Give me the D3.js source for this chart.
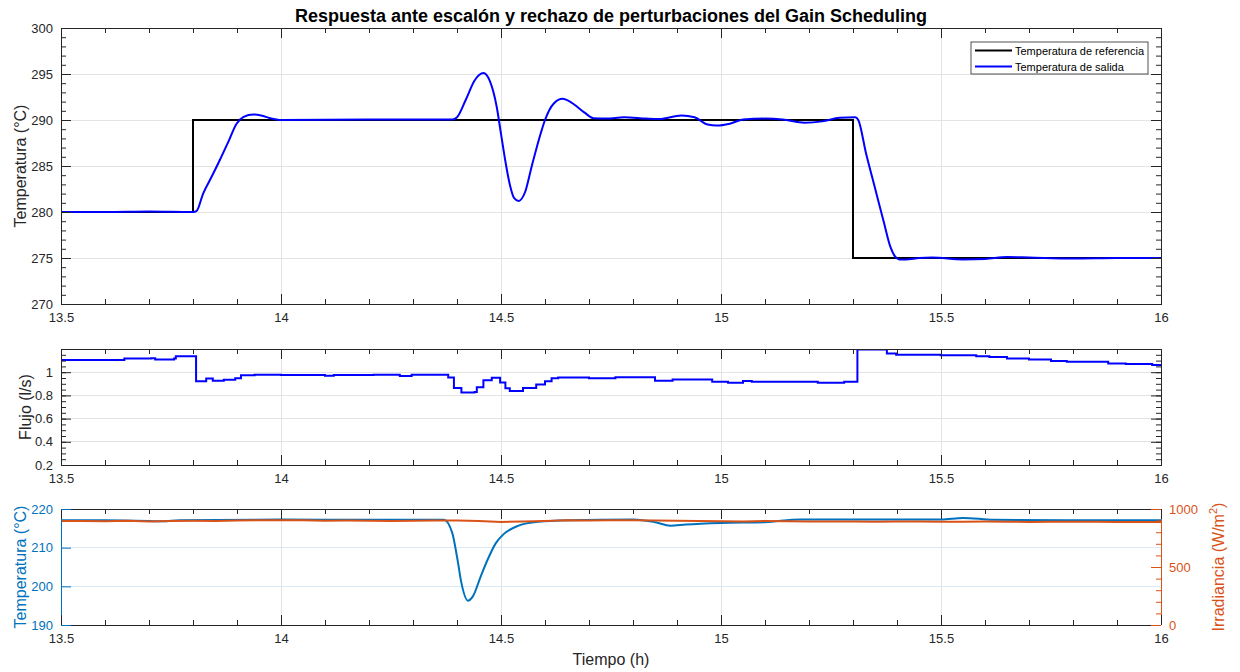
<!DOCTYPE html>
<html>
<head>
<meta charset="utf-8">
<script src="https://cdn.jsdelivr.net/npm/d3@7"></script>
<style>
body { margin: 0; background: #fff; }
text { font-family: "Liberation Sans", Arial, sans-serif; }
</style>
</head>
<body>
<script>
// ---- data ----
var refTime = [13.5, 13.8, 13.8, 15.3, 15.3, 16];
var refTemp = [280, 280, 290, 290, 275, 275];

var outTime = [13.5, 13.6, 13.7, 13.8, 13.808, 13.823, 13.842, 13.861, 13.88, 13.899, 13.915, 13.937, 13.955, 13.975, 14.0,
  14.2, 14.39, 14.40, 14.42, 14.44, 14.46, 14.475, 14.49, 14.50, 14.51, 14.52, 14.53, 14.54, 14.555, 14.57, 14.59, 14.60,
  14.62, 14.64, 14.66, 14.69, 14.71, 14.74, 14.78, 14.83, 14.86, 14.91, 14.94, 14.97, 14.99, 15.02, 15.05, 15.1, 15.14,
  15.19, 15.23, 15.27, 15.305, 15.312, 15.33, 15.35, 15.37, 15.385, 15.395, 15.405, 15.42, 15.45, 15.48, 15.55, 15.6,
  15.65, 15.7, 15.8, 15.9, 16.0];
var outTemp = [280, 280, 280.05, 280, 280.1, 282.0, 283.8, 285.65, 287.6, 289.6, 290.35, 290.6, 290.5, 290.2, 290.0,
  290.05, 290.05, 290.3, 292.2, 294.3, 295.1, 294.2, 291.5, 288.5, 285.5, 283.0, 281.5, 281.2, 282.2, 285.0, 288.5, 290.0,
  291.8, 292.3, 291.9, 290.8, 290.2, 290.15, 290.3, 290.15, 290.1, 290.5, 290.3, 289.5, 289.4, 289.6, 290.05, 290.15, 290.05,
  289.7, 289.85, 290.25, 290.3, 290.0, 286.3, 282.6, 278.9, 276.2, 275.2, 274.85, 274.85, 275.0, 275.05, 274.85, 274.9,
  275.1, 275.05, 274.95, 275.0, 275.0];

var flowTime = [13.5, 13.644, 13.705, 13.714, 13.757, 13.761, 13.807, 13.83, 13.845, 13.87, 13.896, 13.909, 13.94, 14.0,
  14.1, 14.12, 14.21, 14.27, 14.297, 14.38, 14.393, 14.41, 14.44, 14.445, 14.46, 14.479, 14.498, 14.51, 14.52, 14.55,
  14.58, 14.6, 14.615, 14.63, 14.7, 14.76, 14.85, 14.89, 14.98, 15.016, 15.05, 15.07, 15.22, 15.28, 15.31, 15.377, 15.398,
  15.499, 15.58, 15.61, 15.65, 15.7, 15.75, 15.786, 15.88, 15.92, 15.98, 16.0];
var flowVal = [1.106, 1.118, 1.121, 1.109, 1.118, 1.137, 0.921, 0.946, 0.927, 0.935, 0.948, 0.973, 0.979, 0.975,
  0.969, 0.975, 0.979, 0.968, 0.978, 0.955, 0.864, 0.824, 0.83, 0.87, 0.93, 0.952, 0.912, 0.861, 0.839, 0.864,
  0.894, 0.921, 0.948, 0.955, 0.947, 0.956, 0.926, 0.938, 0.918, 0.909, 0.924, 0.918, 0.909, 0.918, 1.195, 1.162, 1.15,
  1.147, 1.138, 1.13, 1.118, 1.109, 1.097, 1.091, 1.076, 1.07, 1.062, 1.062];

var inTime = [13.5, 13.6, 13.7, 13.73, 13.77, 14.0, 14.2, 14.37, 14.389, 14.401, 14.41, 14.425, 14.436, 14.454, 14.47,
  14.489, 14.506, 14.54, 14.584, 14.654, 14.8, 14.85, 14.885, 14.92, 15.0, 15.1, 15.18, 15.5, 15.55, 15.62, 15.8, 16.0];
var inTemp = [217.1, 217.1, 216.9, 216.8, 217.1, 217.3, 217.2, 217.2, 213.9, 207.0, 200.9, 196.3, 197.4, 202.6, 207.0,
  211.3, 213.5, 215.7, 216.7, 217.1, 217.3, 216.6, 215.7, 216.0, 216.4, 216.6, 217.3, 217.3, 217.7, 217.2, 217.1, 217.1];

var irrTime = [13.5, 13.55, 13.6, 13.65, 13.7, 13.75, 13.8, 13.85, 13.9, 13.95, 14.0, 14.05, 14.1, 14.15, 14.2, 14.25,
  14.3, 14.35, 14.4, 14.45, 14.5, 14.55, 14.6, 14.65, 14.7, 14.75, 14.8, 14.85, 14.9, 14.95, 15.0, 15.05, 15.1, 15.15,
  15.2, 15.25, 15.3, 15.35, 15.4, 15.45, 15.5, 15.55, 15.6, 15.65, 15.7, 15.75, 15.8, 15.85, 15.9, 15.95, 16.0];
var irrVal = [897, 896, 894, 898, 893, 897, 899, 897, 901, 904, 903, 902, 899, 901, 899, 897, 899, 901, 900, 897,
  889, 893, 897, 903, 900, 902, 904, 900, 898, 896, 895, 893, 897, 895, 893, 892, 893, 891, 892, 893,
  891, 890, 892, 890, 889, 891, 890, 891, 888, 889, 887];

var xTicks = [13.5, 14, 14.5, 15, 15.5, 16];
var tempTicks = [270, 275, 280, 285, 290, 295, 300];
var flowTicks = [0.2, 0.4, 0.6, 0.8, 1];
var inTempTicks = [190, 200, 210, 220];
var irrTicks = [0, 500, 1000];
var legendLabels = ["Temperatura de referencia", "Temperatura de salida"];

// ---- layout ----
var width = 1240, height = 672;
var left = 61, right = 1161;
var axisCol = "#262626", gridCol = "#e3e3e3";
var cBlue = "#0000ff", cMat1 = "#0072bd", cMat2 = "#d95319";
var noLabel = function() { return ""; };
var plain = function(d) { return String(d); };

var svg = d3.select("body").append("svg")
    .attr("width", width)
    .attr("height", height);

var x = d3.scaleLinear().domain([13.5, 16]).range([left, right]);
var xMinor = d3.range(13.5, 16.001, 0.1).map(function(d) { return +d.toFixed(1); });

function zip(a, b) { return a.map(function(d, i) { return [d, b[i]]; }); }

function styleAxis(g, col) {
  g.select(".domain").remove();
  g.selectAll("line").attr("stroke", col);
  g.selectAll("text").attr("fill", col).style("font-size", "13px");
}

function xAxes(g, top, bottom) {
  g.append("g").attr("transform", "translate(0," + bottom + ")")
      .call(d3.axisBottom(x).tickValues(xMinor).tickSize(-5).tickFormat(noLabel))
      .call(styleAxis, axisCol);
  g.append("g").attr("transform", "translate(0," + top + ")")
      .call(d3.axisTop(x).tickValues(xMinor).tickSize(-5).tickFormat(noLabel))
      .call(styleAxis, axisCol);
  g.append("g").attr("transform", "translate(0," + bottom + ")")
      .call(d3.axisBottom(x).tickValues(xTicks).tickSize(-10).tickPadding(9).tickFormat(plain))
      .call(styleAxis, axisCol);
  g.append("g").attr("transform", "translate(0," + top + ")")
      .call(d3.axisTop(x).tickValues(xTicks).tickSize(-10).tickFormat(noLabel))
      .call(styleAxis, axisCol);
}

function yAxes(g, y, major, minor, side, col, fmt) {
  var ax = side === "left" ? d3.axisLeft : d3.axisRight;
  var pos = side === "left" ? left : right;
  if (minor) {
    g.append("g").attr("transform", "translate(" + pos + ",0)")
        .call(ax(y).tickValues(minor).tickSize(-5).tickFormat(noLabel))
        .call(styleAxis, col);
  }
  g.append("g").attr("transform", "translate(" + pos + ",0)")
      .call(ax(y).tickValues(major).tickSize(-10).tickPadding(8).tickFormat(fmt))
      .call(styleAxis, col);
}

function grid(g, y, yTicksList, top, bottom, hCol) {
  g.append("g").selectAll("line").data(xTicks).enter().append("line")
      .attr("x1", x).attr("x2", x).attr("y1", top).attr("y2", bottom)
      .attr("stroke", gridCol);
  g.append("g").selectAll("line").data(yTicksList).enter().append("line")
      .attr("x1", left).attr("x2", right)
      .attr("y1", y).attr("y2", y)
      .attr("stroke", hCol || gridCol);
}

function clip(id, top, bottom) {
  svg.append("clipPath").attr("id", id).append("rect")
      .attr("x", left).attr("y", top).attr("width", right - left).attr("height", bottom - top);
}

// ---- top panel ----
var t0 = 28, t1 = 304;
var yTemp = d3.scaleLinear().domain([270, 300]).range([t1, t0]);
var gTop = svg.append("g").attr("shape-rendering", "crispEdges");
grid(gTop, yTemp, tempTicks, t0, t1);
clip("c1", t0, t1);

var lineTemp = d3.line().x(function(d) { return x(d[0]); }).y(function(d) { return yTemp(d[1]); });
svg.append("path").datum(zip(refTime, refTemp))
    .attr("clip-path", "url(#c1)")
    .attr("fill", "none").attr("stroke", "#000").attr("stroke-width", 2)
    .attr("d", lineTemp);
svg.append("path").datum(zip(outTime, outTemp))
    .attr("clip-path", "url(#c1)")
    .attr("fill", "none").attr("stroke", cBlue).attr("stroke-width", 2)
    .attr("d", lineTemp.curve(d3.curveMonotoneX));

var gTopAx = svg.append("g");
gTopAx.append("rect").attr("x", left).attr("y", t0).attr("width", right - left).attr("height", t1 - t0)
    .attr("fill", "none").attr("stroke", axisCol).attr("shape-rendering", "crispEdges");
xAxes(gTopAx, t0, t1);
yAxes(gTopAx, yTemp, tempTicks, d3.range(270, 301, 1), "left", axisCol, plain);
yAxes(gTopAx, yTemp, tempTicks, d3.range(270, 301, 1), "right", axisCol, noLabel);

// legend
var lg = svg.append("g").attr("transform", "translate(971,42)");
lg.append("rect").attr("width", 177).attr("height", 32)
    .attr("fill", "#fff").attr("stroke", axisCol).attr("stroke-width", 0.8);
lg.selectAll("line").data(legendLabels).enter().append("line")
    .attr("x1", 4).attr("x2", 41)
    .attr("y1", function(d, i) { return 8.5 + i * 16; })
    .attr("y2", function(d, i) { return 8.5 + i * 16; })
    .attr("stroke", function(d, i) { return i === 0 ? "#000" : cBlue; })
    .attr("stroke-width", 2);
lg.selectAll("text").data(legendLabels).enter().append("text")
    .attr("x", 44)
    .attr("y", function(d, i) { return 12.5 + i * 16; })
    .style("font-size", "11px").attr("fill", "#000")
    .text(function(d) { return d; });

// ---- middle panel ----
var m0 = 349, m1 = 465;
var yFlow = d3.scaleLinear().domain([0.2, 1.2]).range([m1, m0]);
var gMid = svg.append("g").attr("shape-rendering", "crispEdges");
grid(gMid, yFlow, flowTicks, m0, m1);
clip("c2", m0, m1);
svg.append("path").datum(zip(flowTime, flowVal))
    .attr("clip-path", "url(#c2)")
    .attr("fill", "none").attr("stroke", cBlue).attr("stroke-width", 2)
    .attr("d", d3.line().curve(d3.curveStepAfter)
      .x(function(d) { return x(d[0]); }).y(function(d) { return yFlow(d[1]); }));

var gMidAx = svg.append("g");
gMidAx.append("rect").attr("x", left).attr("y", m0).attr("width", right - left).attr("height", m1 - m0)
    .attr("fill", "none").attr("stroke", axisCol).attr("shape-rendering", "crispEdges");
xAxes(gMidAx, m0, m1);
var flowMinor = d3.range(0.2, 1.201, 0.05).map(function(d) { return +d.toFixed(2); });
yAxes(gMidAx, yFlow, flowTicks, flowMinor, "left", axisCol, plain);
yAxes(gMidAx, yFlow, flowTicks, flowMinor, "right", axisCol, noLabel);

// ---- bottom panel ----
var b0 = 509, b1 = 625;
var yIn = d3.scaleLinear().domain([190, 220]).range([b1, b0]);
var yIrr = d3.scaleLinear().domain([0, 1000]).range([b1, b0]);
var gBot = svg.append("g").attr("shape-rendering", "crispEdges");
grid(gBot, yIn, inTempTicks, b0, b1, "#dbe9f4");
clip("c3", b0, b1);
svg.append("path").datum(zip(inTime, inTemp))
    .attr("clip-path", "url(#c3)")
    .attr("fill", "none").attr("stroke", cMat1).attr("stroke-width", 2)
    .attr("d", d3.line().curve(d3.curveMonotoneX)
      .x(function(d) { return x(d[0]); }).y(function(d) { return yIn(d[1]); }));
svg.append("path").datum(zip(irrTime, irrVal))
    .attr("clip-path", "url(#c3)")
    .attr("fill", "none").attr("stroke", cMat2).attr("stroke-width", 2)
    .attr("d", d3.line().x(function(d) { return x(d[0]); }).y(function(d) { return yIrr(d[1]); }));

var gBotAx = svg.append("g");
gBotAx.append("line").attr("x1", left).attr("x2", right).attr("y1", b0).attr("y2", b0)
    .attr("stroke", axisCol).attr("shape-rendering", "crispEdges");
gBotAx.append("line").attr("x1", left).attr("x2", right).attr("y1", b1).attr("y2", b1)
    .attr("stroke", axisCol).attr("shape-rendering", "crispEdges");
gBotAx.append("line").attr("x1", left).attr("x2", left).attr("y1", b0).attr("y2", b1)
    .attr("stroke", cMat1).attr("shape-rendering", "crispEdges");
gBotAx.append("line").attr("x1", right).attr("x2", right).attr("y1", b0).attr("y2", b1)
    .attr("stroke", cMat2).attr("shape-rendering", "crispEdges");
xAxes(gBotAx, b0, b1);
yAxes(gBotAx, yIn, inTempTicks, null, "left", cMat1, plain);
yAxes(gBotAx, yIrr, irrTicks, d3.range(0, 1001, 100), "right", cMat2, plain);

// ---- titles and axis labels ----
svg.append("text").attr("x", (left + right) / 2).attr("y", 22)
    .attr("text-anchor", "middle").style("font-size", "18px").style("font-weight", "bold")
    .attr("fill", "#000")
    .text("Respuesta ante escalón y rechazo de perturbaciones del Gain Scheduling");

function yLabel(txt, cx, cy, col) {
  return svg.append("text")
      .attr("transform", "translate(" + cx + "," + cy + ") rotate(-90)")
      .attr("text-anchor", "middle").style("font-size", "16px")
      .attr("fill", col).text(txt);
}
yLabel("Temperatura (°C)", 26, (t0 + t1) / 2, axisCol);
yLabel("Flujo (l/s)", 31, (m0 + m1) / 2, axisCol);
yLabel("Temperatura (°C)", 26, (b0 + b1) / 2, cMat1);

var irrLab = svg.append("text")
    .attr("transform", "translate(1224," + ((b0 + b1) / 2) + ") rotate(-90)")
    .attr("text-anchor", "middle").style("font-size", "16px").attr("fill", cMat2);
irrLab.append("tspan").text("Irradiancia (W/m");
irrLab.append("tspan").attr("dy", -7).style("font-size", "11px").text("2");
irrLab.append("tspan").attr("dy", 7).text(")");

svg.append("text").attr("x", (left + right) / 2).attr("y", 665)
    .attr("text-anchor", "middle").style("font-size", "16px").attr("fill", axisCol)
    .text("Tiempo (h)");
</script>
</body>
</html>
